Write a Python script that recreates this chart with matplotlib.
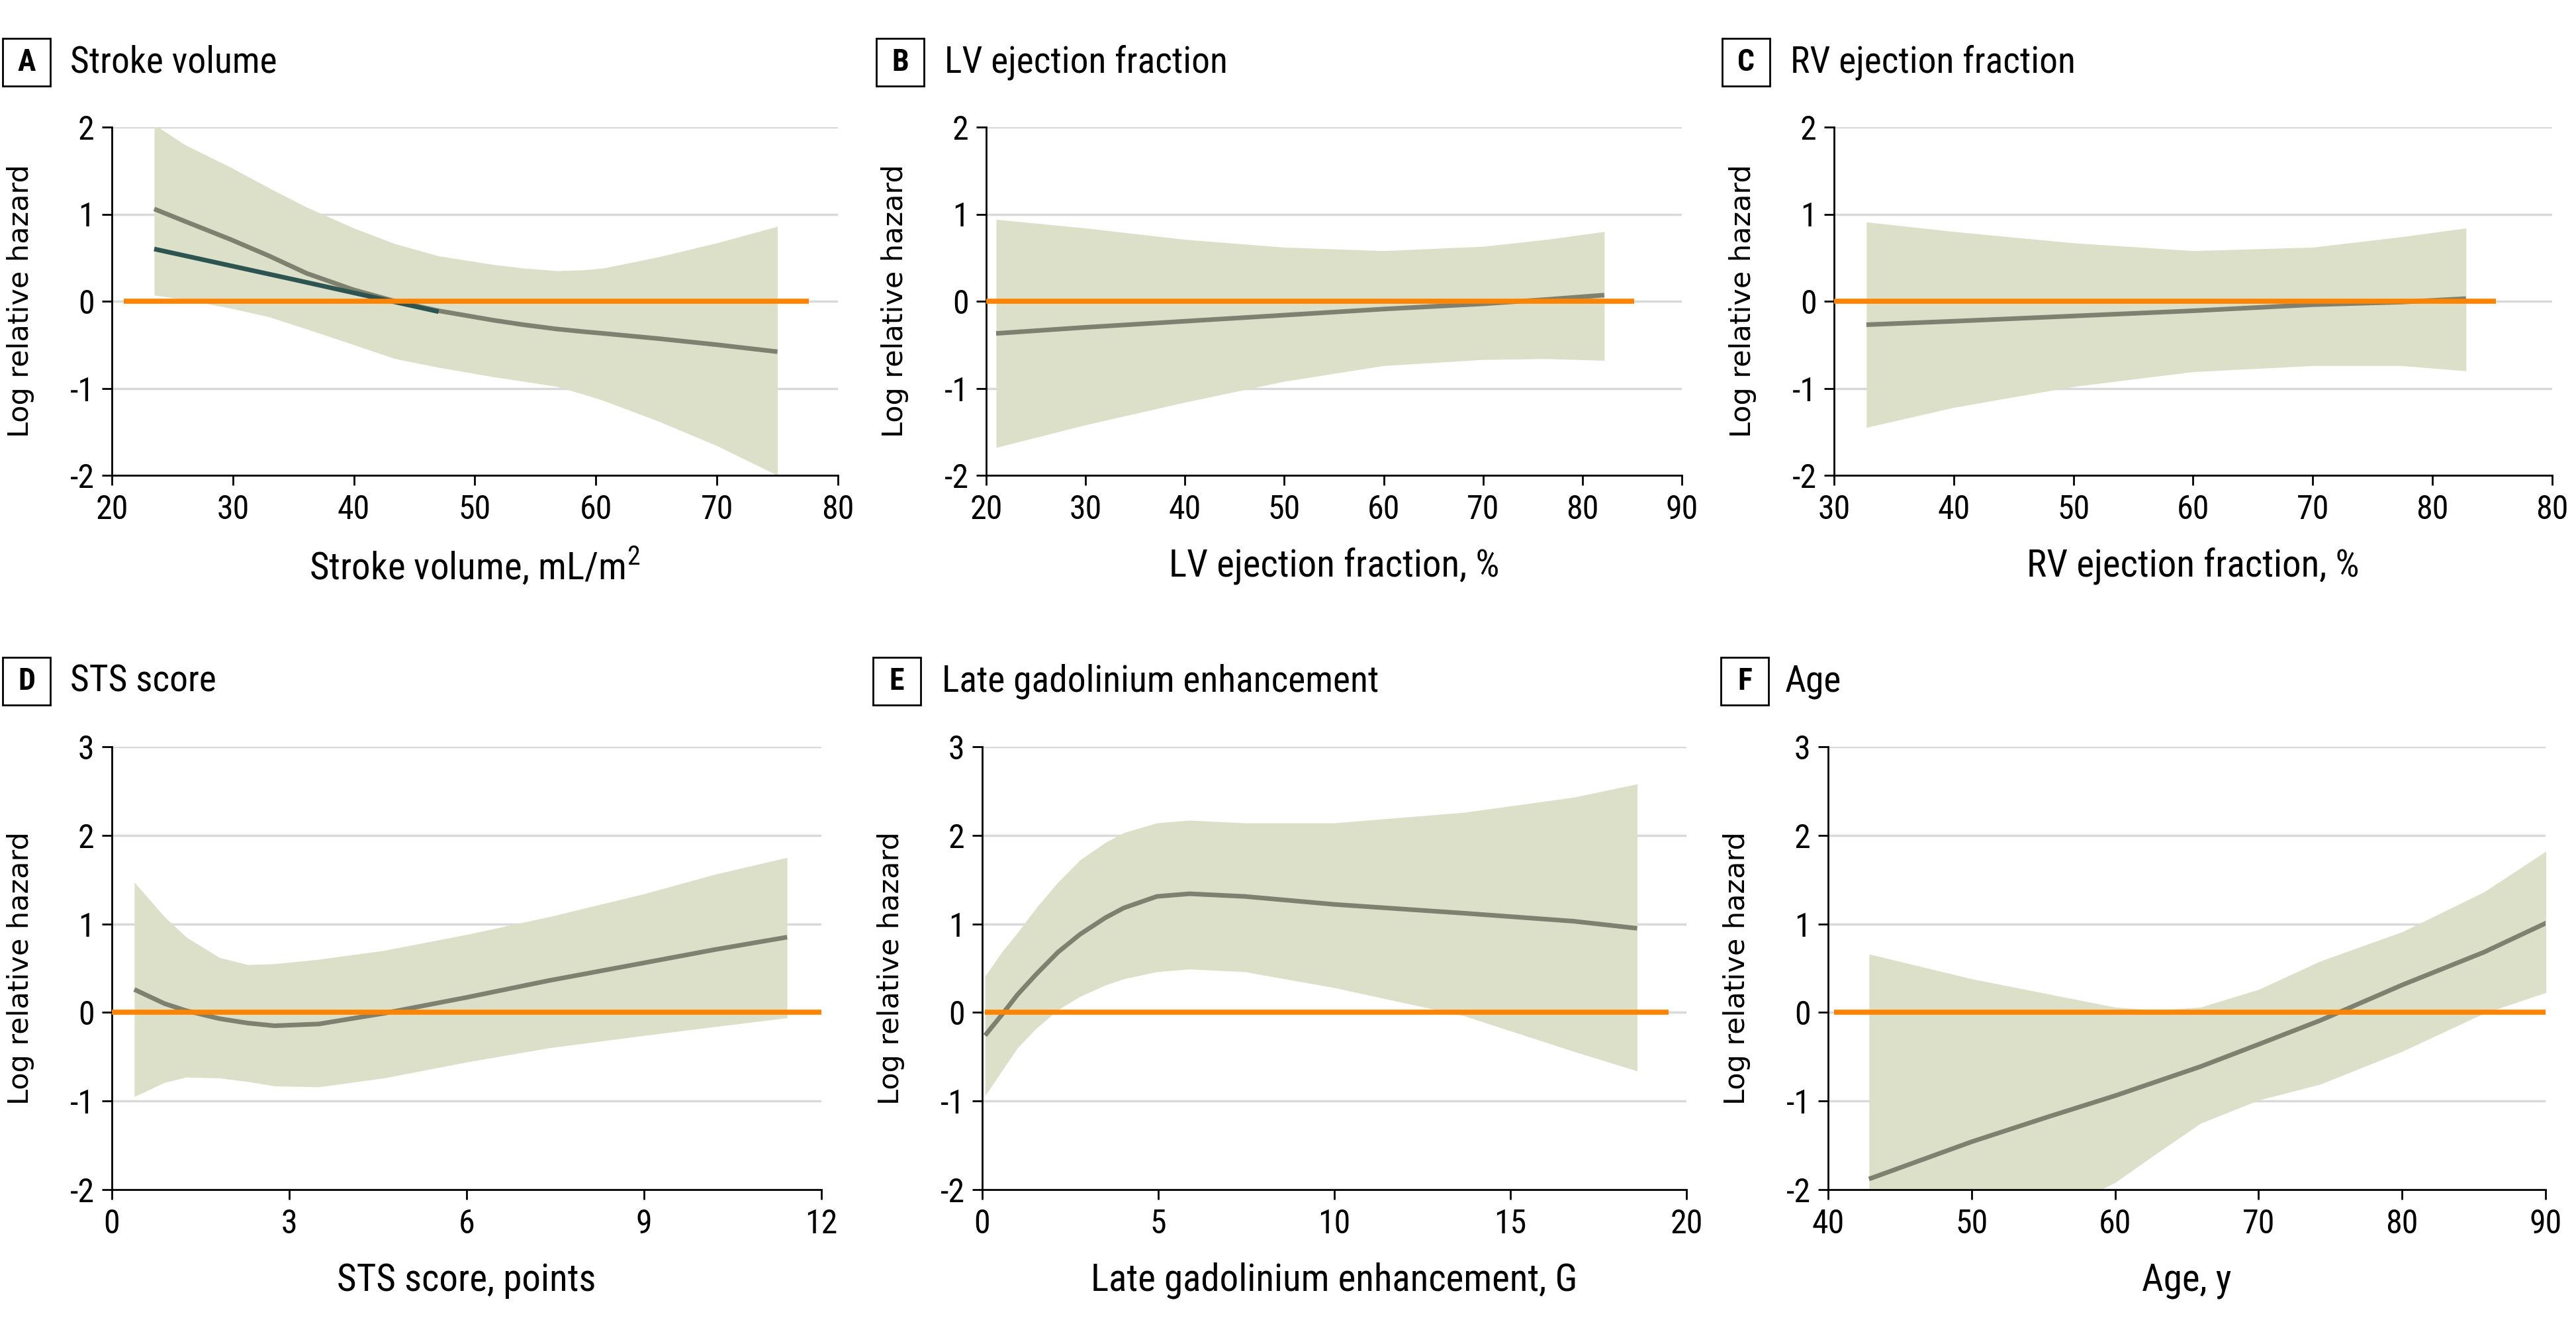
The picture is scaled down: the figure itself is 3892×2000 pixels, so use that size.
import numpy as np
import matplotlib
matplotlib.use("Agg")
import matplotlib.pyplot as plt
from matplotlib import font_manager
from matplotlib.patches import Rectangle

NARROW_NAME = "Roboto Condensed"
NARROW = dict(family=[NARROW_NAME, "DejaVu Sans"])

plt.rcParams["axes.unicode_minus"] = False

# ---- data ----
# A Stroke volume
sv_x = [23.5, 26, 29.8, 33, 36.1, 40, 43.4, 47, 51.6, 54, 56.8, 59, 60.6, 65.2, 70, 75]
sv_est = [1.06, 0.92, 0.71, 0.52, 0.32, 0.13, 0.0, -0.11, -0.22, -0.27, -0.32, -0.35, -0.37, -0.43, -0.50, -0.58]
sv_hi = [2.03, 1.80, 1.54, 1.30, 1.08, 0.84, 0.66, 0.52, 0.42, 0.38, 0.35, 0.36, 0.38, 0.51, 0.67, 0.86]
sv_lo = [0.07, 0.02, -0.08, -0.18, -0.32, -0.50, -0.66, -0.76, -0.87, -0.92, -0.98, -1.07, -1.14, -1.38, -1.66, -2.0]
sv_lin_x = [23.5, 35, 47]
sv_lin = [0.60, 0.25, -0.12]

# B LV ejection fraction
lv_x = [21, 30, 40, 50, 60, 70, 76.4, 82.2]
lv_est = [-0.37, -0.30, -0.23, -0.16, -0.09, -0.03, 0.02, 0.07]
lv_hi = [0.94, 0.84, 0.71, 0.62, 0.58, 0.63, 0.71, 0.80]
lv_lo = [-1.68, -1.42, -1.16, -0.92, -0.74, -0.67, -0.66, -0.68]

# C RV ejection fraction
rv_x = [32.7, 40, 50, 60, 70, 77.4, 82.8]
rv_est = [-0.27, -0.23, -0.17, -0.11, -0.04, -0.01, 0.03]
rv_hi = [0.91, 0.80, 0.67, 0.58, 0.62, 0.74, 0.84]
rv_lo = [-1.45, -1.22, -0.98, -0.81, -0.74, -0.74, -0.80]

# D STS score
sts_x = [0.38, 0.89, 1.26, 1.82, 2.3, 2.75, 3.5, 4.6, 6.0, 7.39, 9.0, 10.2, 11.42]
sts_est = [0.26, 0.10, 0.02, -0.07, -0.12, -0.15, -0.13, -0.01, 0.17, 0.36, 0.56, 0.71, 0.85]
sts_hi = [1.47, 1.08, 0.85, 0.62, 0.54, 0.55, 0.60, 0.70, 0.88, 1.08, 1.34, 1.56, 1.75]
sts_lo = [-0.95, -0.79, -0.73, -0.74, -0.78, -0.83, -0.84, -0.74, -0.56, -0.40, -0.26, -0.16, -0.06]

# E Late gadolinium enhancement
lge_x = [0.08, 0.59, 1.0, 1.53, 2.15, 2.77, 3.5, 4.02, 4.96, 5.89, 7.45, 10.0, 13.7, 16.8, 18.6]
lge_est = [-0.26, -0.01, 0.20, 0.43, 0.68, 0.88, 1.07, 1.18, 1.31, 1.34, 1.31, 1.22, 1.12, 1.03, 0.95]
lge_hi = [0.41, 0.70, 0.90, 1.18, 1.47, 1.72, 1.92, 2.03, 2.14, 2.17, 2.14, 2.14, 2.26, 2.43, 2.58]
lge_lo = [-0.94, -0.64, -0.40, -0.18, 0.03, 0.18, 0.31, 0.38, 0.46, 0.49, 0.46, 0.28, -0.04, -0.44, -0.66]

# F Age
age_x = [42.85, 50, 55.3, 60, 62.9, 65.97, 70, 74.3, 80, 85.7, 90.3]
age_est = [-1.88, -1.46, -1.18, -0.94, -0.78, -0.61, -0.36, -0.09, 0.31, 0.68, 1.03]
age_hi = [0.66, 0.38, 0.21, 0.06, 0.025, 0.06, 0.26, 0.58, 0.91, 1.36, 1.85]
age_lo = [-3.0, -2.6, -2.3, -1.92, -1.59, -1.25, -0.99, -0.81, -0.44, -0.01, 0.24]

# reference line (log relative hazard = 0) extents
ref_spans = [[21, 77.6], [20, 85.2], [30, 85.3], [-0.15, 12], [0.08, 19.5], [40.4, 90]]

letters = ["A", "B", "C", "D", "E", "F"]
titles = ["Stroke volume", "LV ejection fraction", "RV ejection fraction",
          "STS score", "Late gadolinium enhancement", "Age"]
xlabels = ["Stroke volume, mL/m$^{2}$", "LV ejection fraction, %", "RV ejection fraction, %",
           "STS score, points", "Late gadolinium enhancement, G", "Age, y"]
xticks = [[20, 30, 40, 50, 60, 70, 80], [20, 30, 40, 50, 60, 70, 80, 90],
          [30, 40, 50, 60, 70, 80, 90], [0, 3, 6, 9, 12], [0, 5, 10, 15, 20],
          [40, 50, 60, 70, 80, 90]]
xticklabels = [None, None, ["30", "40", "50", "60", "70", "80", "80"], None, None, None]
ylims = [(-2, 2)] * 3 + [(-2, 3)] * 3

curves = [(sv_x, sv_est, sv_lo, sv_hi), (lv_x, lv_est, lv_lo, lv_hi),
          (rv_x, rv_est, rv_lo, rv_hi), (sts_x, sts_est, sts_lo, sts_hi),
          (lge_x, lge_est, lge_lo, lge_hi), (age_x, age_est, age_lo, age_hi)]

# ---- layout (pixels in a 3892x2000 canvas) ----
W, H = 3892, 2000
cols_px = [(169, 1266), (1490, 2541), (2771, 3856), (169, 1241), (1484, 2548), (2762, 3846)]
rows_px = [(192, 718)] * 3 + [(1128, 1797)] * 3
box_px = [(4, 58), (1324, 58), (2602, 58), (4, 993), (1319, 993), (2600, 993)]
title_x = [106, 1427, 2705, 106, 1423, 2697]

BAND = "#dce0c9"
EST = "#7f8170"
TEAL = "#2e5451"
ORANGE = "#ff8200"
GRID = "#d9d9d9"

plt.rcParams["mathtext.fontset"] = "custom"
plt.rcParams["mathtext.rm"] = NARROW_NAME

fig = plt.figure(figsize=(W / 100, H / 100), dpi=100)
fig.patch.set_facecolor("white")
tick_font = font_manager.FontProperties(size=36, family=NARROW_NAME)

for i in range(6):
    x0, x1 = cols_px[i]
    top, bot = rows_px[i]
    ax = fig.add_axes([x0 / W, 1 - bot / H, (x1 - x0) / W, (bot - top) / H])
    x, est, lo, hi = curves[i]

    ax.fill_between(x, lo, hi, color=BAND, lw=0, zorder=1)
    ax.plot(x, est, color=EST, lw=5, solid_capstyle="butt", zorder=3)
    if i == 0:
        ax.plot(sv_lin_x, sv_lin, color=TEAL, lw=5, solid_capstyle="butt", zorder=4)
    ax.plot(ref_spans[i], [0, 0], color=ORANGE, lw=5.5, solid_capstyle="butt", zorder=5)

    ax.set_xlim(xticks[i][0], xticks[i][-1])
    ax.set_ylim(*ylims[i])
    ax.set_xticks(xticks[i])
    if xticklabels[i] is not None:
        ax.set_xticklabels(xticklabels[i])
    ax.set_yticks(range(ylims[i][0], ylims[i][1] + 1))
    ax.yaxis.grid(True, color=GRID, lw=2.5)
    ax.set_axisbelow(True)
    for s in ["top", "right"]:
        ax.spines[s].set_visible(False)
    for s in ["left", "bottom"]:
        ax.spines[s].set_linewidth(2)
    ax.tick_params(axis="both", length=11, width=2)
    ax.tick_params(axis="x", pad=9)
    ax.tick_params(axis="y", pad=8)
    for lab in ax.get_xticklabels() + ax.get_yticklabels():
        lab.set_fontproperties(tick_font)

    # axis titles
    xc = (x0 + x1) / 2
    fig.text(xc / W, 1 - (bot + 137) / H, xlabels[i], ha="center", va="center",
             fontsize=41, **NARROW)
    fig.text((x0 - 138) / W, 1 - (top + bot) / 2 / H, "Log relative hazard",
             rotation=90, ha="center", va="center", fontsize=31, family="DejaVu Sans")

    # panel letter box and title
    bx, by = box_px[i]
    fig.add_artist(Rectangle((bx / W, 1 - (by + 72) / H), 72 / W, 72 / H,
                             transform=fig.transFigure, fill=False, ec="black", lw=2))
    fig.text((bx + 36) / W, 1 - (by + 36) / H, letters[i], ha="center", va="center",
             fontsize=33, fontweight="bold", **NARROW)
    fig.text(title_x[i] / W, 1 - (by + 36) / H, titles[i], ha="left", va="center",
             fontsize=40, **NARROW)

fig.savefig("out.png", dpi=100, facecolor="white")
